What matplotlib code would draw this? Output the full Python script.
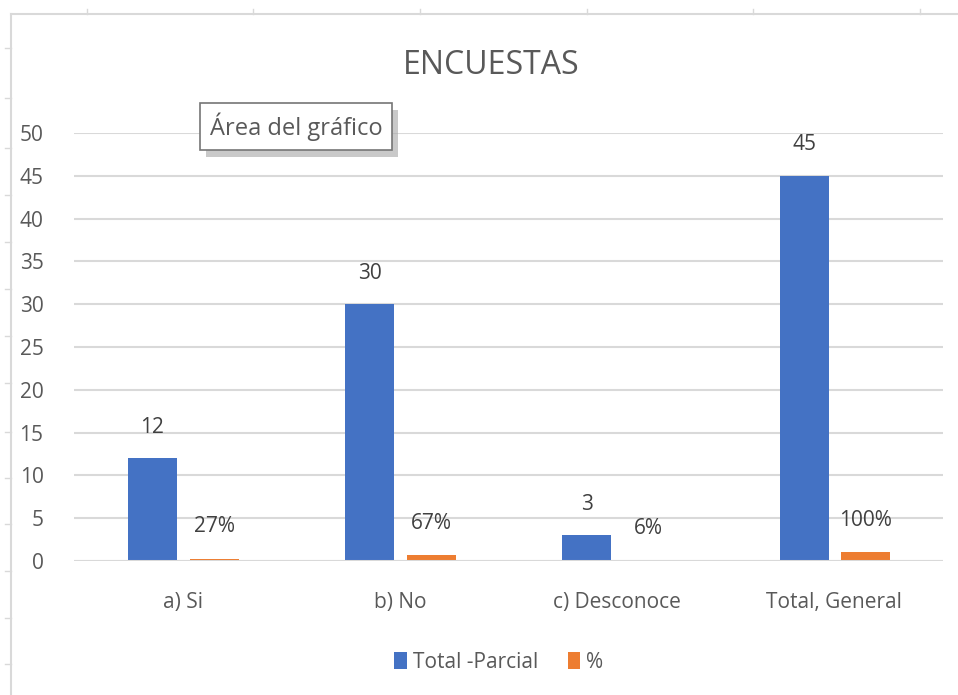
import numpy as np
import matplotlib
matplotlib.use("Agg")
import matplotlib.pyplot as plt
from matplotlib.patches import Rectangle
from matplotlib.lines import Line2D

plt.rcParams['font.family'] = ['Open Sans', 'DejaVu Sans']

categories = ["a) Si", "b) No", "c) Desconoce", "Total, General"]
total_parcial = [12, 30, 3, 45]
porcentaje = [0.27, 0.67, 0.06, 1.00]
pct_labels = ["27%", "67%", "6%", "100%"]
series_names = ["Total -Parcial", "%"]
yticks = [0, 5, 10, 15, 20, 25, 30, 35, 40, 45, 50]

BLUE = "#4472C4"
ORANGE = "#ED7D31"
TXT = "#595959"
GRID = "#D9D9D9"

W, H = 958, 695
fig = plt.figure(figsize=(W / 100, H / 100), dpi=100)
fig.patch.set_facecolor("white")


def fx(px):
    return px / W


def fy(py):
    return 1 - py / H


# spreadsheet frame and row/column markers behind the chart
fig.add_artist(Line2D([fx(11), fx(11)], [fy(14), 0], color=GRID, lw=1.5))
fig.add_artist(Line2D([fx(11), 1], [fy(14), fy(14)], color=GRID, lw=1.5))
for y in [48, 98, 148, 195, 242, 289, 336, 383, 432, 478, 524, 571, 618, 664]:
    fig.add_artist(Line2D([fx(5), fx(11)], [fy(y), fy(y)], color=GRID, lw=1))
for x in [87, 253, 420, 587, 753, 920]:
    fig.add_artist(Line2D([fx(x), fx(x)], [fy(9), fy(14)], color=GRID, lw=1))

ax = fig.add_axes([fx(74), fy(561), fx(943) - fx(74), fy(133) - fy(561)])
x = np.arange(len(categories))
width = 0.225
b1 = ax.bar(x - 0.139, total_parcial, width, color=BLUE, label=series_names[0], zorder=3)
b2 = ax.bar(x + 0.145, porcentaje, width, color=ORANGE, label=series_names[1], zorder=3)

for rect, v in zip(b1, total_parcial):
    ax.annotate(str(v), (rect.get_x() + rect.get_width() / 2, rect.get_height()),
                xytext=(0, 31), textcoords="offset pixels", ha="center", va="center",
                fontsize=15, color="#404040")
for rect, lab in zip(b2, pct_labels):
    ax.annotate(lab, (rect.get_x() + rect.get_width() / 2, rect.get_height()),
                xytext=(0, 32), textcoords="offset pixels", ha="center", va="center",
                fontsize=15, color="#404040")

ax.set_xlim(-0.5, 3.5)
ax.set_ylim(0, 50)
ax.set_yticks(yticks)
ax.set_xticks(x)
ax.set_xticklabels(categories)
ax.yaxis.grid(True, color=GRID, lw=1.5, zorder=0)
# category axis line sits over the bar bases
ax.axhline(0, color=GRID, lw=2.2, zorder=4)
for s in ax.spines.values():
    s.set_visible(False)
ax.tick_params(axis="both", length=0, labelsize=15, colors=TXT)
ax.tick_params(axis="y", pad=22)
ax.tick_params(axis="x", pad=22)

fig.text(fx(491), fy(66), "ENCUESTAS", ha="center", va="center", fontsize=23, color=TXT)

fig.legend(handles=[b1, b2], labels=series_names, loc="center",
           bbox_to_anchor=(fx(499), fy(662)), ncol=2, frameon=False,
           fontsize=15, labelcolor=TXT, handlelength=0.6, handleheight=0.9,
           handletextpad=0.3, columnspacing=1.4)

# hover tooltip box with a drop shadow
fig.add_artist(Rectangle((fx(206), fy(157)), fx(392) - fx(200), fy(103) - fy(150),
                         facecolor="#A6A6A6", edgecolor="none", alpha=0.6))
fig.add_artist(Rectangle((fx(200), fy(150)), fx(392) - fx(200), fy(103) - fy(150),
                         facecolor="white", edgecolor="#767676", lw=1.2))
fig.text(fx(296), fy(127), "Área del gráfico", ha="center", va="center",
         fontsize=17, color=TXT)

fig.savefig("out.png", dpi=100)
